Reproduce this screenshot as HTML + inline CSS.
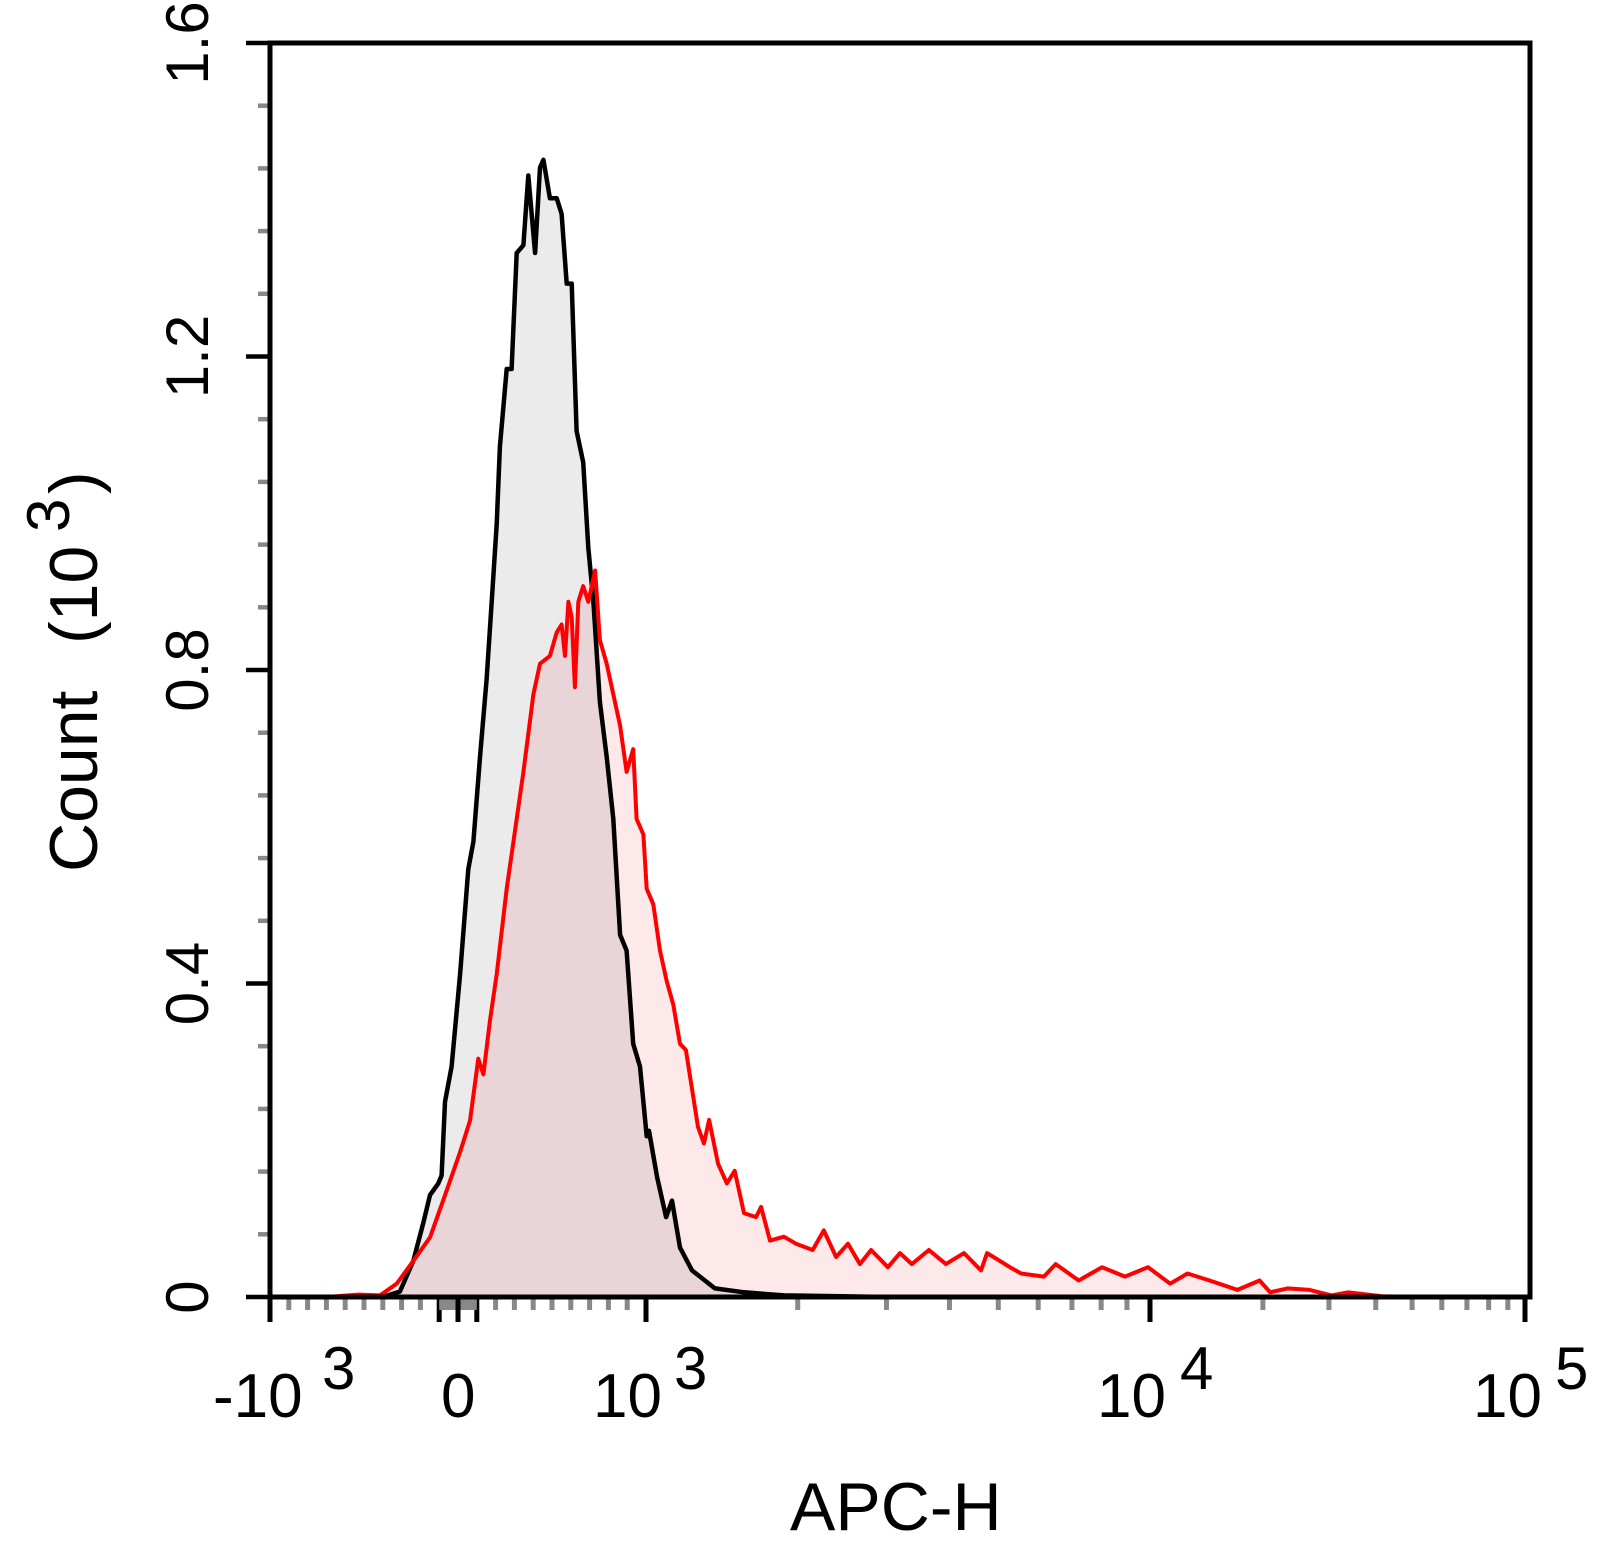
<!DOCTYPE html>
<html><head><meta charset="utf-8"><style>
html,body{margin:0;padding:0;background:#fff;}
svg{display:block;font-family:"Liberation Sans",Arial,sans-serif;}
</style></head><body>
<svg id="chart" width="1610" height="1560" viewBox="0 0 1610 1560" xmlns="http://www.w3.org/2000/svg">
<g id="fills"></g><g id="lines"></g><g id="axes"></g>
</svg>
<script>
// ---- data (x in APC-H units, counts in thousands) ----
const blackX = [-400,-309,-238,-184,-149,-105,-87,-69,-34,11,55,82,117,152,179,206,223,259,285,312,348,374,410,436,454,489,525,551,578,605,631,666,693,720,755,791,826,862,897,932,968,1003,1014,1052,1096,1126,1168,1234,1370,1565,1878,2450,3000];
const blackY = [0,0.007,0.046,0.095,0.130,0.145,0.155,0.249,0.294,0.412,0.546,0.581,0.689,0.788,0.887,0.986,1.085,1.184,1.184,1.332,1.342,1.431,1.332,1.441,1.451,1.402,1.402,1.382,1.293,1.293,1.105,1.065,0.956,0.887,0.759,0.689,0.610,0.462,0.442,0.323,0.294,0.205,0.212,0.153,0.102,0.123,0.063,0.034,0.011,0.006,0.002,0.001,0];
const redX = [-700,-530,-415,-326,-238,-149,-60,11,64,108,135,170,206,259,312,348,401,436,489,525,551,569,587,605,622,640,666,693,729,755,791,826,862,897,932,950,986,1003,1034,1066,1099,1133,1168,1200,1268,1303,1334,1390,1447,1500,1565,1653,1692,1762,1878,1984,2142,2253,2383,2517,2657,2796,3020,3192,3370,3641,3935,4275,4620,4750,5275,5550,6160,6500,7220,8030,8920,9910,11320,12590,14420,17110,19600,20920,23270,26650,30510,33760,41500,50000];
const redY = [0,0.003,0.002,0.017,0.046,0.076,0.136,0.185,0.225,0.304,0.284,0.353,0.412,0.521,0.610,0.670,0.769,0.808,0.818,0.848,0.858,0.818,0.887,0.867,0.778,0.887,0.907,0.887,0.927,0.838,0.808,0.769,0.729,0.670,0.699,0.610,0.590,0.521,0.501,0.442,0.403,0.373,0.323,0.315,0.217,0.196,0.226,0.170,0.145,0.161,0.107,0.102,0.115,0.072,0.077,0.068,0.060,0.085,0.051,0.068,0.042,0.060,0.038,0.056,0.042,0.060,0.042,0.056,0.034,0.056,0.038,0.030,0.026,0.042,0.021,0.038,0.026,0.038,0.017,0.030,0.021,0.009,0.021,0.006,0.011,0.009,0.002,0.006,0.001,0];
const yTicks = [0,0.4,0.8,1.2,1.6];
const yTickLabels = ["0","0.4","0.8","1.2","1.6"];

// ---- axes functions ----
const L=270,R=1530,T=43,B=1297;
function xs(d){
  if(d<=1000) return 458+0.188*d;
  if(d<=10000) return 646+504*Math.log10(d/1000);
  return 1150+375*Math.log10(d/10000);
}
function ys(v){ return B-(B-T)*v/1.6; }

const NS="http://www.w3.org/2000/svg";
function mk(tag,attrs,parent){const e=document.createElementNS(NS,tag);for(const k in attrs)e.setAttribute(k,attrs[k]);parent.appendChild(e);return e;}
const fills=document.getElementById('fills'),lines=document.getElementById('lines'),axes=document.getElementById('axes');

function pts(X,Y){return X.map((x,i)=>xs(x).toFixed(1)+','+ys(Y[i]).toFixed(1)).join(' ');}
const bp=pts(blackX,blackY), rp=pts(redX,redY);
const bf=mk('polygon',{points:xs(blackX[0])+','+B+' '+bp+' '+xs(blackX[blackX.length-1])+','+B,fill:'#ebebeb'},fills);


const rf=mk('polygon',{points:xs(redX[0])+','+B+' '+rp+' '+xs(redX[redX.length-1])+','+B,fill:'#fde8ea',style:'mix-blend-mode:multiply'},fills);


const bl=mk('polyline',{points:bp,fill:'none',stroke:'#000','stroke-width':4.5,'stroke-linejoin':'round'},lines);


const rl=mk('polyline',{points:rp,fill:'none',stroke:'#f00','stroke-width':4,'stroke-linejoin':'round'},lines);



// y minor/major ticks
for(let i=0;i<=20;i++){
  const v=i*0.08, y=ys(v), major=(i%5===0);
  const t=mk('line',{x1:major?246:258,x2:L,y1:y,y2:y,stroke:major?'#000':'#888','stroke-width':4.5},axes);
  
  
}
yTicks.forEach((v,i)=>{
  const t=mk('text',{transform:'translate(208,'+ys(v)+') rotate(-90)','text-anchor':'middle','font-size':60,fill:'#000'},axes);
  t.textContent=yTickLabels[i];
  
  
});
// x ticks
const xMinor=[];
for(let d=-900;d<=900;d+=100) if(d!==0) xMinor.push(d);
for(let d=2000;d<=9000;d+=1000) xMinor.push(d);
for(let d=20000;d<=90000;d+=10000) xMinor.push(d);
xMinor.forEach(d=>{
  const x=xs(d), blk=(d===-100||d===100);
  const t=mk('line',{x1:x,x2:x,y1:B,y2:blk?1322:1310,stroke:blk?'#000':'#888','stroke-width':5},axes);
  
  
});
mk('rect',{x:xs(-100),y:B,width:xs(100)-xs(-100),height:13,fill:'#888'},axes);
[-1000,0,1000,10000,100000].forEach(d=>{
  const x=xs(d);
  const t=mk('line',{x1:x,x2:x,y1:B,y2:1322,stroke:'#000','stroke-width':5},axes);
  
  
});
// frame
const fr=mk('rect',{x:L,y:T,width:R-L,height:B-T,fill:'none',stroke:'#000','stroke-width':5},axes);


</script>
<svg style="position:absolute;left:0;top:0" width="1610" height="1560">
<g font-family="Liberation Sans, Arial, sans-serif" fill="#000">
<text x="213" y="1417" font-size="62">-10</text>
<text x="322" y="1389" font-size="60">3</text>
<text x="441" y="1417" font-size="62">0</text>
<text x="593" y="1417" font-size="62">10</text>
<text x="674" y="1389" font-size="60">3</text>
<text x="1097" y="1417" font-size="62">10</text>
<text x="1180" y="1389" font-size="60">4</text>
<text x="1473" y="1417" font-size="62">10</text>
<text x="1555" y="1389" font-size="60">5</text>
<text x="790" y="1530" font-size="68">APC-H</text>
<g transform="translate(97,872) rotate(-90)">
<text x="0" y="0" font-size="68">Count</text>
<text x="228" y="0" font-size="68">(10</text>
<text x="340" y="-28" font-size="60">3</text>
<text x="378" y="0" font-size="68">)</text>
</g>
</g>
</svg>
</body></html>
